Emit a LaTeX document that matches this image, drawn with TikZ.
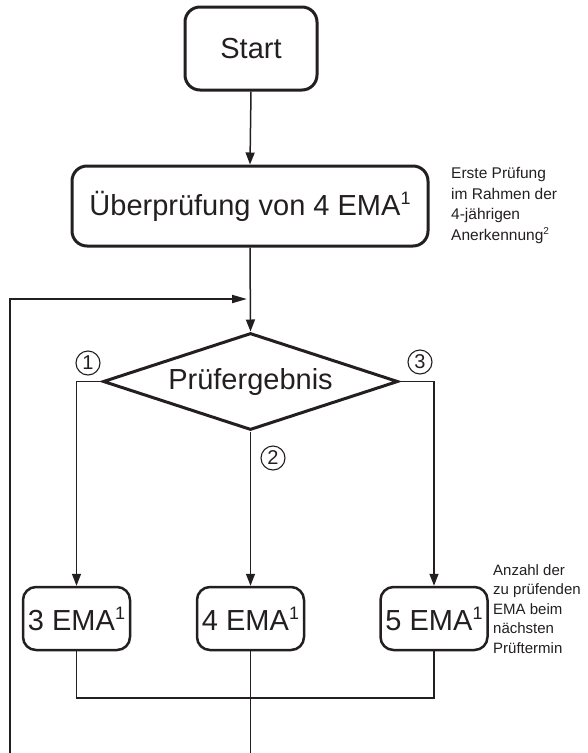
\documentclass[tikz,border=0pt]{standalone}
\usepackage{fontspec}
\setmainfont{Liberation Sans}
\usetikzlibrary{arrows.meta,shapes.geometric}
\definecolor{ink}{RGB}{35,31,32}
\newcommand\myup[1]{\raisebox{11pt}{\fontsize{18}{18}\selectfont #1}}
\begin{document}
\begin{tikzpicture}[x=1pt,y=-1pt,
  every node/.style={text=ink},
  box/.style={draw=ink, line width=3pt, rounded corners=15pt, inner sep=0pt,
    font=\fontsize{29}{34}\selectfont},
  emabox/.style={draw=ink, line width=2.5pt, rounded corners=13pt, inner sep=0pt,
    minimum width=107pt, minimum height=63pt, font=\fontsize{29}{34}\selectfont},
  decision/.style={draw=ink, line width=3pt, diamond, shape aspect=3, inner sep=0pt,
    minimum width=295pt, minimum height=97pt, font=\fontsize{29}{34}\selectfont},
  conn/.style={draw=ink, line width=1.5pt},
  arr/.style={conn, -{Triangle[length=12pt,width=9pt]}},
  circnum/.style={circle, draw=ink, line width=1.1pt, minimum size=24pt, inner sep=0pt,
    font=\fontsize{20}{20}\selectfont},
  note/.style={align=left, anchor=north west, inner sep=0pt}
]
\useasboundingbox (0,0) rectangle (588,753);

\node[box, minimum width=132pt, minimum height=83pt] (start) at (251,48.5) {Start};
\node[box, minimum width=356pt, minimum height=80pt] (pruef) at (250,206)
  {Überprüfung von 4 EMA\myup{1}};
\node[note, font=\fontsize{15.5}{20.7}\selectfont] (note1) at (451,167)
  {Erste Prüfung\\im Rahmen der\\4-jährigen\\Anerkennung\raisebox{6pt}{\fontsize{10}{10}\selectfont 2}};

\node[decision] (dec) at (250.5,381.5) {Prüfergebnis};

\node[circnum] (c1) at (88,363) {1};
\node[circnum] (c3) at (420,362) {3};
\node[circnum] (c2) at (273,458) {2};

\node[emabox] (e3) at (76.5,618.5) {3 EMA\myup{1}};
\node[emabox] (e4) at (250.5,618.5) {4 EMA\myup{1}};
\node[emabox] (e5) at (434,618.5) {5 EMA\myup{1}};

\node[note, font=\fontsize{15}{19.6}\selectfont] (note2) at (493,564)
  {Anzahl der\\zu prüfenden\\EMA beim\\nächsten\\Prüftermin};

\coordinate (join) at (250.5,698);
\coordinate (bottomc) at (250.5,753);
\coordinate (loopbot) at (10,753);
\coordinate (looptop) at (10,299);
\coordinate (loopend) at (247,299);

\draw[arr] (start.south) -- (pruef.north);
\draw[arr] (pruef.south) -- (dec.north);
\draw[draw=ink, line width=2pt, -{Triangle[length=15pt,width=8pt]}]
  (loopbot) -- (looptop) -- (loopend);
\draw[arr] (dec.west) -| (e3.north);
\draw[arr] (dec.east) -| (e5.north);
\draw[arr] (dec.south) -- (e4.north);
\draw[conn] (e3.south) |- (join) -| (e5.south);
\draw[conn] (e4.south) -- (bottomc);
\end{tikzpicture}
\end{document}
